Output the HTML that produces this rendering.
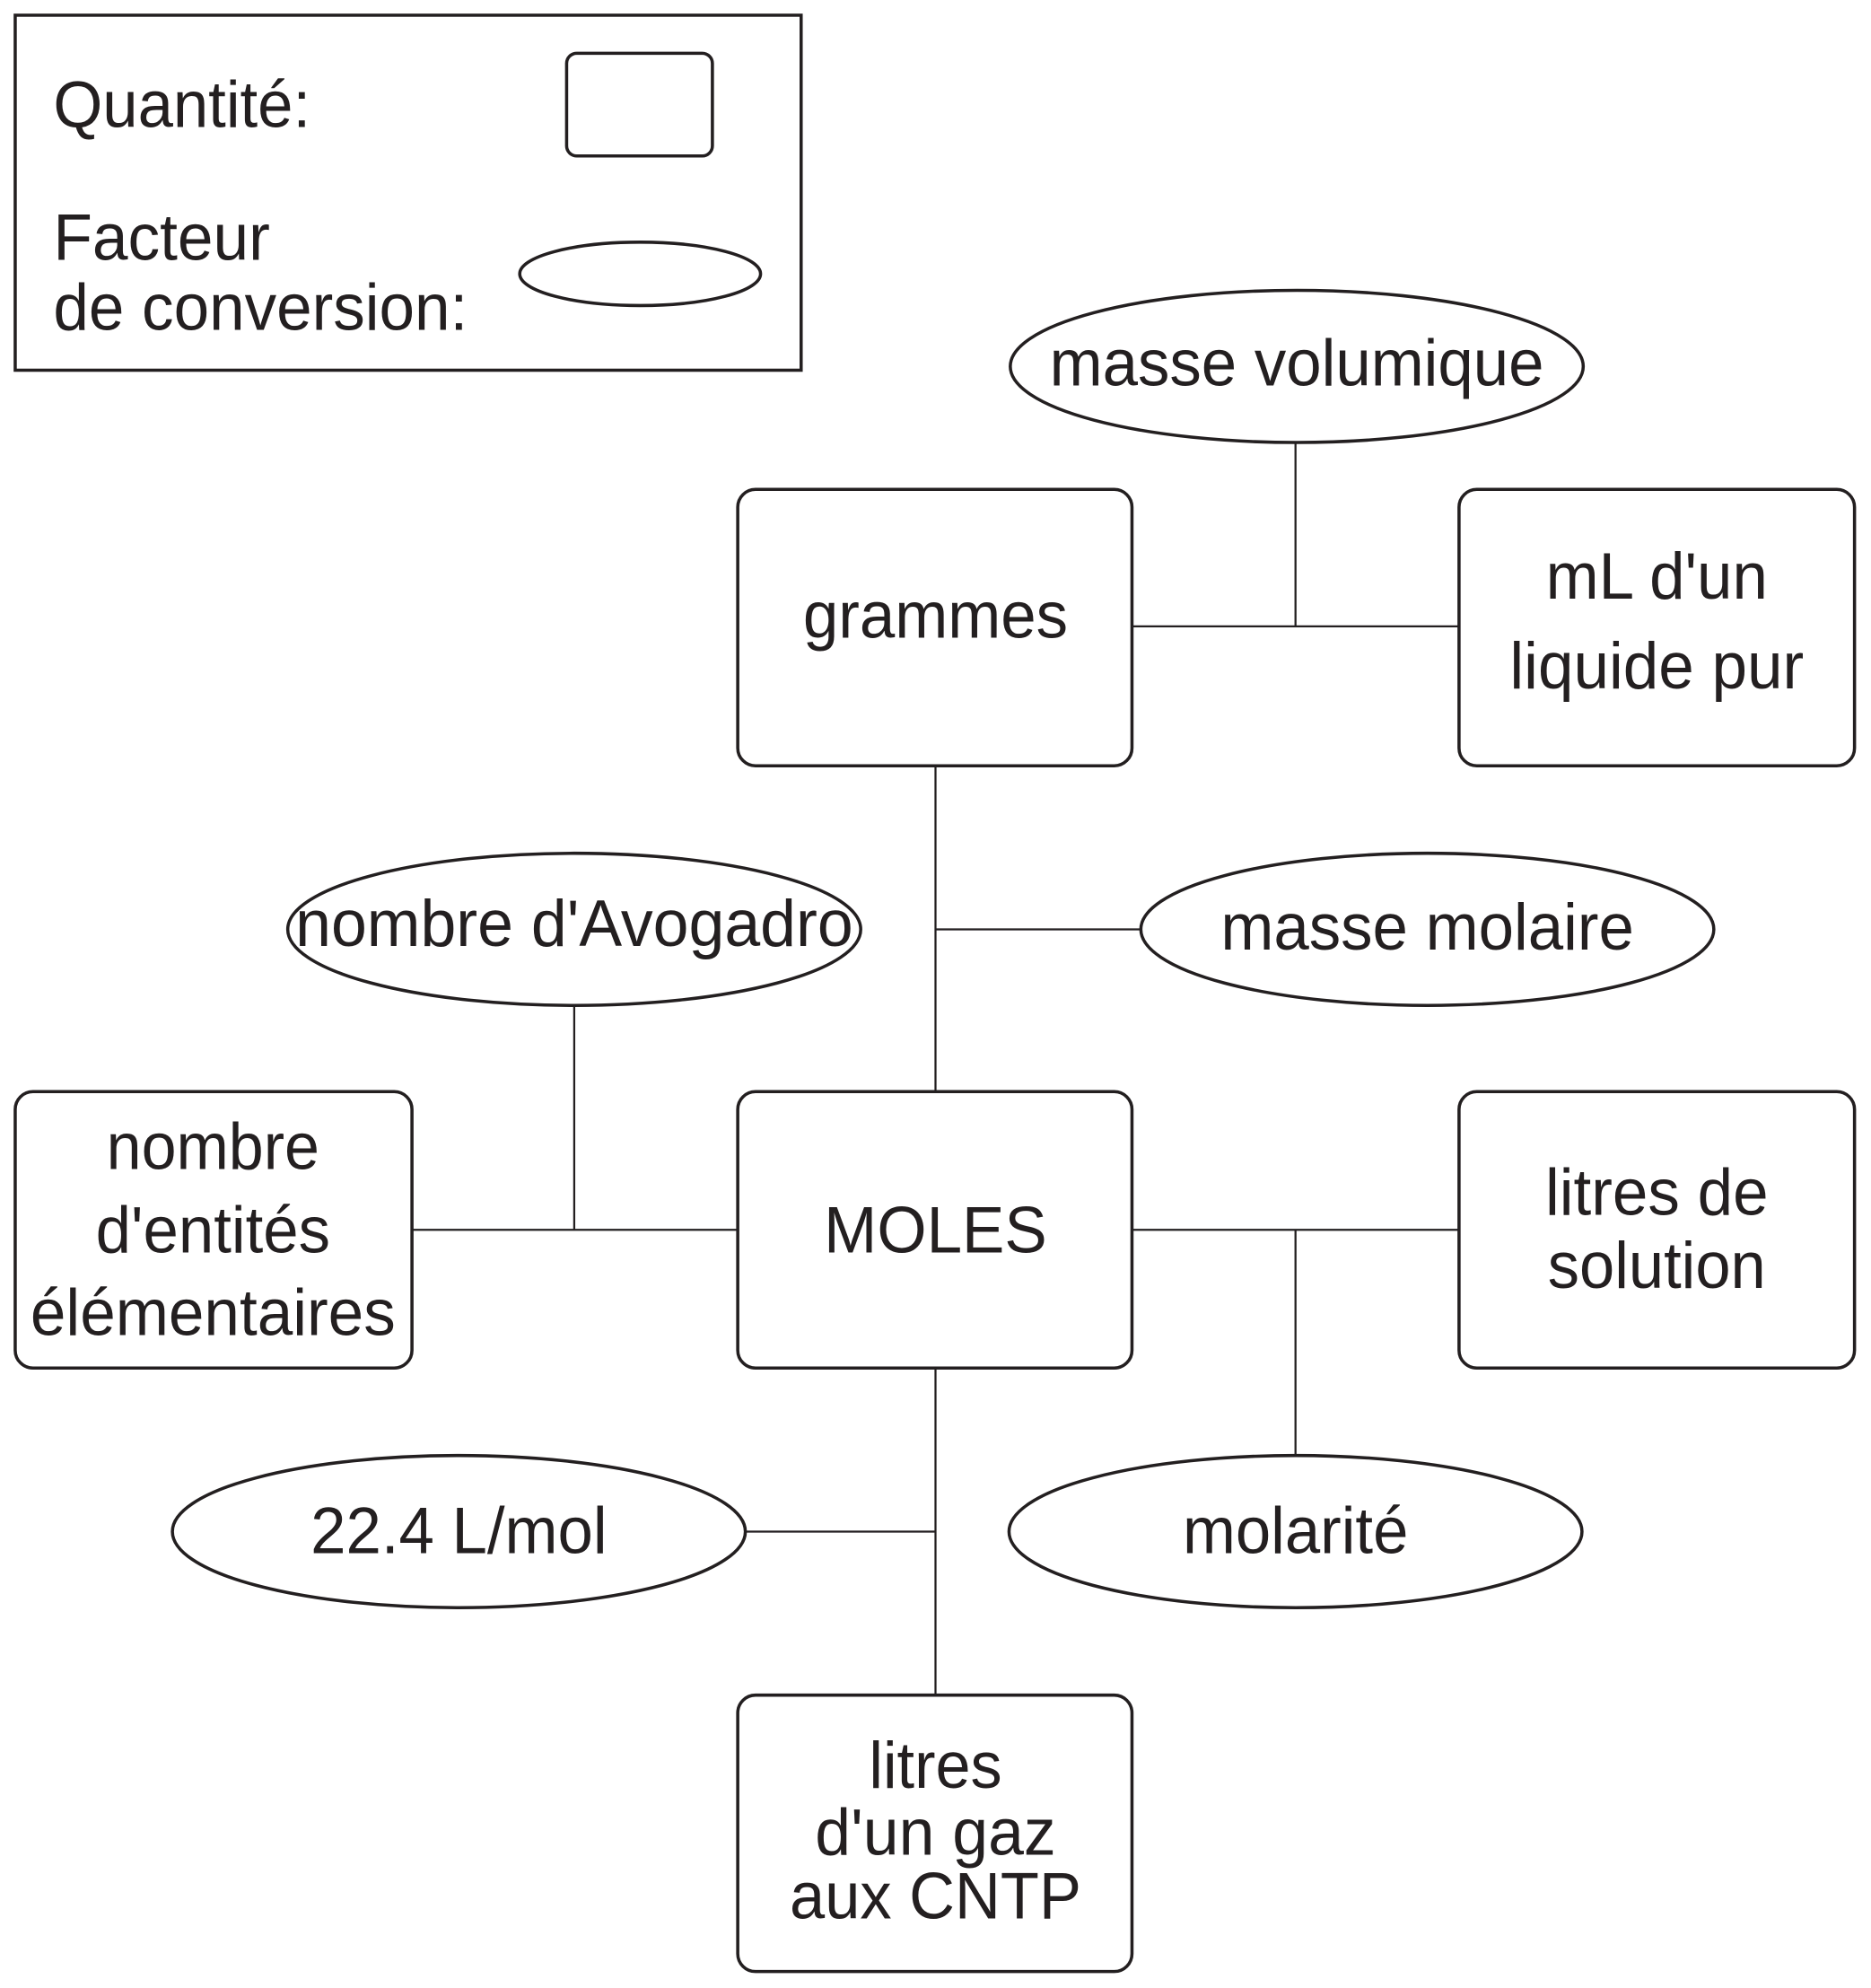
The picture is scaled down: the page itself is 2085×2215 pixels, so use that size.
<!DOCTYPE html>
<html><head><meta charset="utf-8"><style>
html,body{margin:0;padding:0;background:#fff;}
svg{display:block;}
text{font-family:"Liberation Sans",Arial,sans-serif;fill:#231f20;font-size:52px;}
</style></head><body>
<svg width="2085" height="2215" viewBox="0 0 1476 1568" preserveAspectRatio="none" xmlns="http://www.w3.org/2000/svg">
<g fill="none" stroke="#231f20" stroke-width="2.5">
<rect x="12" y="12" width="620" height="280"/>
<rect x="447" y="42" width="115" height="81" rx="8"/>
<ellipse cx="505" cy="216" rx="95" ry="25"/>
<rect x="582" y="386" width="311" height="218" rx="14"/>
<rect x="1151" y="386" width="312" height="218" rx="14"/>
<rect x="12" y="861" width="313" height="218" rx="14"/>
<rect x="582" y="861" width="311" height="218" rx="14"/>
<rect x="1151" y="861" width="312" height="218" rx="14"/>
<rect x="582" y="1337" width="311" height="218" rx="14"/>
<ellipse cx="1023" cy="289" rx="226" ry="60"/>
<ellipse cx="453" cy="733" rx="226" ry="60"/>
<ellipse cx="1126" cy="733" rx="226" ry="60"/>
<ellipse cx="362" cy="1208" rx="226" ry="60"/>
<ellipse cx="1022" cy="1208" rx="226" ry="60"/>
</g>
<g stroke="#231f20" stroke-width="1.6">
<line x1="893" y1="494" x2="1151" y2="494"/><line x1="1022" y1="349" x2="1022" y2="494"/>
<line x1="738" y1="604" x2="738" y2="861"/><line x1="738" y1="733" x2="900" y2="733"/>
<line x1="325" y1="970" x2="582" y2="970"/><line x1="453" y1="793" x2="453" y2="970"/>
<line x1="893" y1="970" x2="1151" y2="970"/><line x1="1022" y1="970" x2="1022" y2="1148"/>
<line x1="738" y1="1079" x2="738" y2="1337"/><line x1="588" y1="1208" x2="738" y2="1208"/>
</g>
<g lengthAdjust="spacingAndGlyphs">
<text x="42" y="100" textLength="203" lengthAdjust="spacingAndGlyphs">Quantité:</text>
<text x="42" y="205" textLength="171" lengthAdjust="spacingAndGlyphs">Facteur</text>
<text x="42" y="260" textLength="327" lengthAdjust="spacingAndGlyphs">de conversion:</text>
</g>
<g text-anchor="middle">
<text x="1023" y="304" textLength="390" lengthAdjust="spacingAndGlyphs">masse volumique</text>
<text x="453" y="746" textLength="440" lengthAdjust="spacingAndGlyphs">nombre d'Avogadro</text>
<text x="1126" y="749" textLength="326" lengthAdjust="spacingAndGlyphs">masse molaire</text>
<text x="362" y="1225" textLength="234" lengthAdjust="spacingAndGlyphs">22.4 L/mol</text>
<text x="1022" y="1225" textLength="178" lengthAdjust="spacingAndGlyphs">molarité</text>
<text x="738" y="503" textLength="209" lengthAdjust="spacingAndGlyphs">grammes</text>
<text x="1307" y="472" textLength="175" lengthAdjust="spacingAndGlyphs">mL d'un</text>
<text x="1307" y="543" textLength="232" lengthAdjust="spacingAndGlyphs">liquide pur</text>
<text x="168" y="922" textLength="168" lengthAdjust="spacingAndGlyphs">nombre</text>
<text x="168" y="988" textLength="185" lengthAdjust="spacingAndGlyphs">d'entités</text>
<text x="168" y="1053" textLength="288" lengthAdjust="spacingAndGlyphs">élémentaires</text>
<text x="738" y="988" textLength="176" lengthAdjust="spacingAndGlyphs">MOLES</text>
<text x="1307" y="958" textLength="176" lengthAdjust="spacingAndGlyphs">litres de</text>
<text x="1307" y="1016" textLength="172" lengthAdjust="spacingAndGlyphs">solution</text>
<text x="738" y="1410" textLength="105" lengthAdjust="spacingAndGlyphs">litres</text>
<text x="738" y="1463" textLength="190" lengthAdjust="spacingAndGlyphs">d'un gaz</text>
<text x="738" y="1513" textLength="230" lengthAdjust="spacingAndGlyphs">aux CNTP</text>
</g>
</svg>
</body></html>
